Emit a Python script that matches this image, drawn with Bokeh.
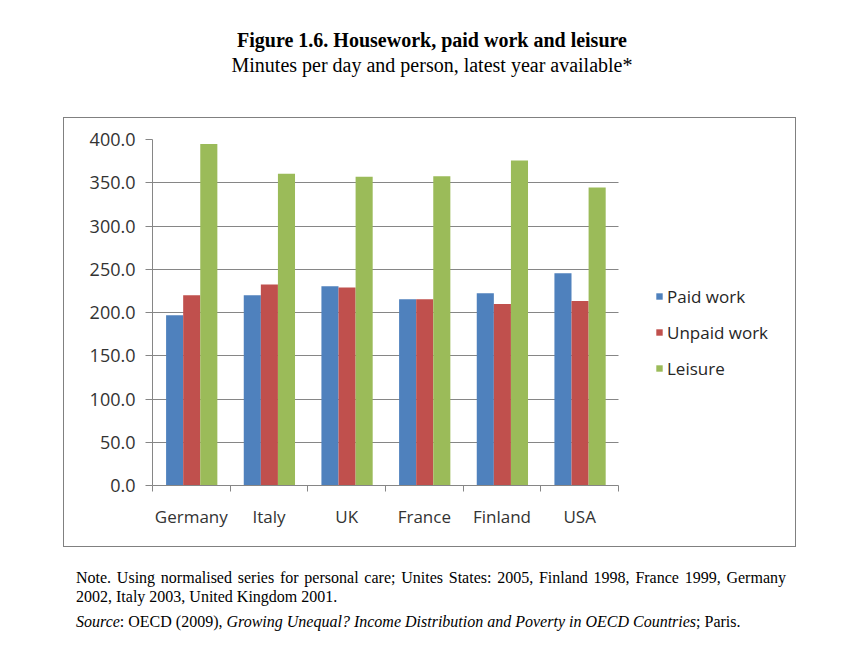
import numpy as np
from bokeh.plotting import figure
from bokeh.layouts import column
from bokeh.models import (Range1d, FixedTicker, NumeralTickFormatter, Legend,
                          LegendItem, Div)
from bokeh.embed import file_html
from bokeh.resources import INLINE

# ---- data -------------------------------------------------------------
countries = ["Germany", "Italy", "UK", "France", "Finland", "USA"]
paid_work = [196.8, 219.9, 230.3, 215.3, 222.2, 245.4]
unpaid_work = [219.9, 232.3, 228.8, 215.3, 209.8, 213.3]
leisure = [394.7, 360.3, 356.8, 357.6, 375.8, 344.6]
series_names = ["Paid work", "Unpaid work", "Leisure"]
y_ticks = [0, 50, 100, 150, 200, 250, 300, 350, 400]

title_text = "Figure 1.6. Housework, paid work and leisure"
subtitle_text = "Minutes per day and person, latest year available*"
note_text = ("Note. Using normalised series for personal care; Unites States: 2005, "
             "Finland 1998, France 1999, Germany 2002, Italy 2003, United Kingdom 2001.")
source_html = ("<i>Source</i>: OECD (2009), <i>Growing Unequal? Income Distribution "
               "and Poverty in OECD Countries</i>; Paris.")

# ---- styles -----------------------------------------------------------
colors = ["#4F81BD", "#C0504D", "#9BBB59"]
grey = "#868686"
sans = "Open Sans"
serif = "'Liberation Serif', 'Times New Roman', serif"
PAGE_W = 838

# ---- title block ------------------------------------------------------
title_html = (
    f'<div style="box-sizing:border-box;width:{PAGE_W}px;padding-left:26px;'
    f'padding-top:28px;text-align:center;font-family:{serif};color:black;'
    f'font-size:20px;line-height:25px;white-space:nowrap;">'
    f'<div style="font-weight:bold;">{title_text}</div>'
    f'<div>{subtitle_text}</div></div>'
)
top = Div(text=title_html, width=PAGE_W, height=117, margin=0)

# ---- chart ------------------------------------------------------------
n = len(countries)
centers = np.arange(n) + 0.5
bounds = list(np.arange(n + 1).astype(float))
bar_w = 0.22
offsets = [-bar_w, 0.0, bar_w]

FIG_W, FIG_H = 733, 430
BORDER_L, BORDER_T, BORDER_B = 88, 21, 63
frame_w = FIG_W - BORDER_L
cat_px = 466  # pixel width taken by the six categories
x_end = n * frame_w / cat_px  # frame extends right to host the legend

p = figure(width=FIG_W, height=FIG_H, output_backend="svg", toolbar_location=None,
           x_range=Range1d(0, x_end), y_range=Range1d(0, 400),
           min_border_left=BORDER_L, min_border_right=0,
           min_border_top=BORDER_T, min_border_bottom=BORDER_B,
           margin=(0, 0, 0, 63))
p.styles = {"border": "1px solid #808080"}
p.outline_line_color = None
p.background_fill_color = "white"
p.border_fill_color = "white"

# horizontal grid, limited to the category area
p.xgrid.grid_line_color = None
try:
    p.ygrid.cross_bounds = (0, n)
    p.ygrid.grid_line_color = grey
    p.ygrid.grid_line_width = 1
except AttributeError:
    p.ygrid.grid_line_color = None
    p.segment(x0=[0] * len(y_ticks), x1=[n] * len(y_ticks), y0=y_ticks, y1=y_ticks,
              line_color=grey, line_width=1)

renderers = []
for vals, off, col in zip([paid_work, unpaid_work, leisure], offsets, colors):
    r = p.vbar(x=centers + off + 0.005, top=vals, width=bar_w, fill_color=col,
               line_color=None)
    renderers.append(r)

# x axis: labels at centres, tick marks at category boundaries
p.xaxis.bounds = (0, n)
p.xaxis.ticker = FixedTicker(ticks=list(centers), minor_ticks=bounds)
p.xaxis.major_label_overrides = {float(c): name for c, name in zip(centers, countries)}
p.xaxis.major_tick_line_color = None
p.xaxis.minor_tick_line_color = grey
p.xaxis.minor_tick_out = 6
p.xaxis.minor_tick_in = 0
p.xaxis.axis_line_color = grey
p.xaxis.major_label_text_font = sans
p.xaxis.major_label_text_font_size = "17px"
p.xaxis.major_label_text_color = "#333333"
p.xaxis.major_label_standoff = 13

# y axis
p.yaxis.ticker = FixedTicker(ticks=y_ticks)
p.yaxis.formatter = NumeralTickFormatter(format="0.0")
p.yaxis.axis_line_color = grey
p.yaxis.major_tick_line_color = grey
p.yaxis.major_tick_out = 7
p.yaxis.major_tick_in = 0
p.yaxis.minor_tick_line_color = None
p.yaxis.major_label_text_font = sans
p.yaxis.major_label_text_font_size = "18px"
p.yaxis.major_label_text_color = "#333333"
p.yaxis.major_label_standoff = 10

legend = Legend(items=[LegendItem(label=nm, renderers=[r])
                       for nm, r in zip(series_names, renderers)],
                location=(503, 105), orientation="vertical",
                glyph_width=8, glyph_height=8, label_height=24, spacing=12,
                label_standoff=4, padding=0, margin=0,
                border_line_color=None, background_fill_alpha=0,
                label_text_font=sans, label_text_font_size="17px",
                label_text_color="#262626")
p.add_layout(legend, "center")

# ---- notes ------------------------------------------------------------
notes_html = (
    f'<div style="font-family:{serif};font-size:16px;color:black;'
    f'padding-top:21px;padding-left:76px;">'
    f'<div style="width:710px;text-align:justify;line-height:19px;">{note_text}</div>'
    f'<div style="margin-top:6px;line-height:19px;white-space:nowrap;">{source_html}</div>'
    f'</div>'
)
bot = Div(text=notes_html, width=PAGE_W, height=88, margin=0)

layout = column(top, p, bot, spacing=0)
open("out.html", "w").write(file_html(layout, INLINE))
